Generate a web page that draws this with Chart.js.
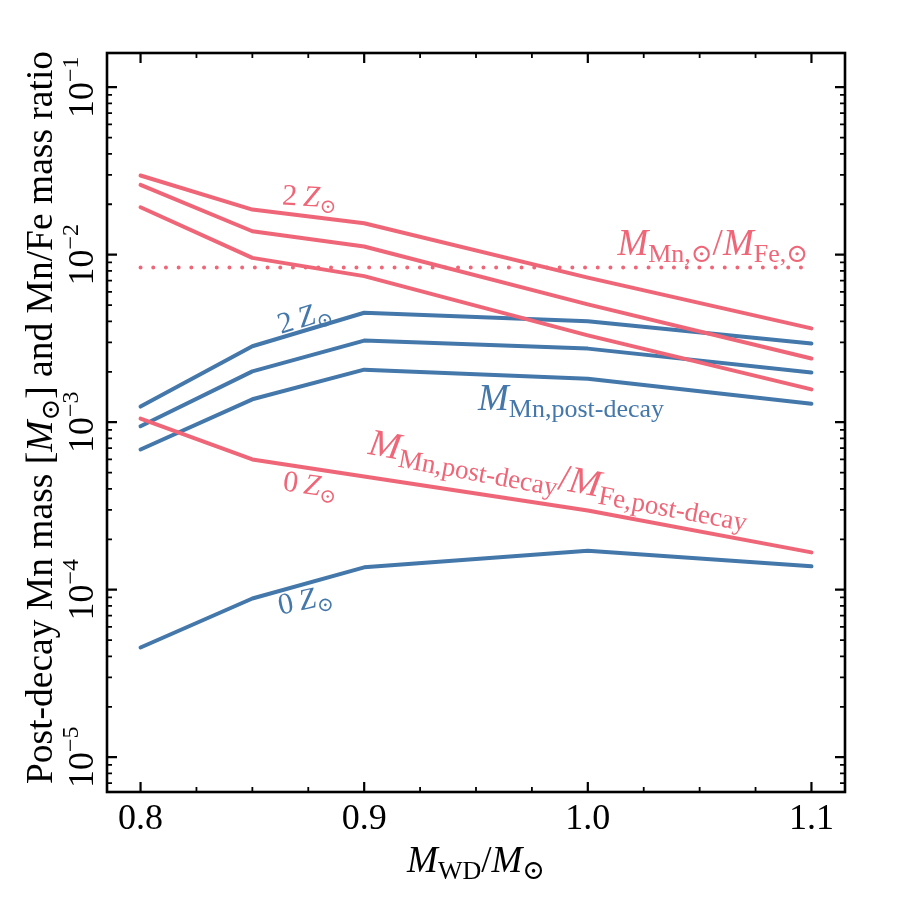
<!DOCTYPE html>
<html>
<head>
<meta charset="utf-8">
<script src="https://cdn.jsdelivr.net/npm/chart.js@4.4.0/dist/chart.umd.min.js"></script>
<style>
  html, body { margin: 0; padding: 0; background: #fff; }
</style>
</head>
<body>
<canvas id="mnChart" width="900" height="900"></canvas>
<script>
// White dwarf masses (M_WD / M_sun)
const massWD = [0.8, 0.85, 0.9, 1.0, 1.1];

// Mn/Fe mass ratio (red lines)
const ratio2Z   = [0.0297, 0.0186, 0.0154, 0.0073, 0.00363];
const ratioMidZ = [0.0261, 0.0138, 0.0112, 0.00505, 0.00240];
const ratioLowZ = [0.0192, 0.00957, 0.00745, 0.00330, 0.00157];
const ratio0Z   = [0.00105, 0.000599, 0.000474, 0.000297, 0.000167];

// post-decay Mn mass (blue lines)
const mn2Z   = [0.00124, 0.00284, 0.00450, 0.00401, 0.00295];
const mnMidZ = [0.000946, 0.00201, 0.00307, 0.00275, 0.00198];
const mnLowZ = [0.000687, 0.00137, 0.00206, 0.00182, 0.00129];
const mn0Z   = [0.0000452, 0.0000886, 0.000136, 0.000171, 0.000138];

// solar Mn/Fe mass ratio (dotted)
const solarX = [0.8, 1.1];
const solarRatio = 0.0084;

// ticks
const xTicks = [0.8, 0.9, 1.0, 1.1];
const xTickLabels = ['0.8', '0.9', '1.0', '1.1'];
const xMinorTicks = [0.825, 0.85, 0.875, 0.925, 0.95, 0.975, 1.025, 1.05, 1.075];
const yTicks = [1e-5, 1e-4, 1e-3, 1e-2, 1e-1];
const yTickExp = ['\u22125', '\u22124', '\u22123', '\u22122', '\u22121'];

const RED = '#EE6677';
const BLUE = '#4477AA';
const SERIF = '"Liberation Serif", "DejaVu Serif", serif';
const SUN = '\u2299';

function toPoints(ys) {
  return massWD.map((x, i) => ({ x: x, y: ys[i] }));
}

function line(ys, color) {
  return {
    data: toPoints(ys),
    borderColor: color,
    borderWidth: 4,
    borderCapStyle: 'round',
    borderJoinStyle: 'round',
    pointRadius: 0,
    tension: 0,
    fill: false
  };
}

// draw text with italic / sub parts: [text, size, italic, dy]
function drawRich(ctx, parts, x, y, align, rot, color) {
  ctx.save();
  ctx.translate(x, y);
  ctx.rotate(rot * Math.PI / 180);
  let w = 0;
  parts.forEach(p => {
    ctx.font = (p[2] ? 'italic ' : '') + p[1] + 'px ' + SERIF;
    w += ctx.measureText(p[0]).width;
  });
  let cx = align === 'right' ? -w : (align === 'left' ? 0 : -w / 2);
  ctx.fillStyle = color;
  ctx.textBaseline = 'alphabetic';
  ctx.textAlign = 'left';
  parts.forEach(p => {
    ctx.font = (p[2] ? 'italic ' : '') + p[1] + 'px ' + SERIF;
    ctx.fillText(p[0], cx, p[3] || 0);
    cx += ctx.measureText(p[0]).width;
  });
  ctx.restore();
}

function zLabel(n) {
  return [[n, 30, false], ['\u2009', 30, false], ['Z', 30, true], [SUN, 20, false, 6]];
}

// frame, inward ticks, tick labels, titles and line labels
const framePlugin = {
  id: 'framePlugin',
  afterDraw(chart) {
    const ctx = chart.ctx;
    const a = chart.chartArea;
    const xs = chart.scales.x;
    const ys = chart.scales.y;
    ctx.save();
    ctx.strokeStyle = '#000';
    ctx.lineCap = 'butt';

    // x ticks (bottom and top)
    ctx.lineWidth = 2.2;
    xTicks.forEach(v => {
      const px = xs.getPixelForValue(v);
      ctx.beginPath();
      ctx.moveTo(px, a.bottom); ctx.lineTo(px, a.bottom - 10);
      ctx.moveTo(px, a.top); ctx.lineTo(px, a.top + 10);
      ctx.stroke();
    });
    ctx.lineWidth = 1.8;
    xMinorTicks.forEach(v => {
      const px = xs.getPixelForValue(v);
      ctx.beginPath();
      ctx.moveTo(px, a.bottom); ctx.lineTo(px, a.bottom - 5);
      ctx.moveTo(px, a.top); ctx.lineTo(px, a.top + 5);
      ctx.stroke();
    });

    // y ticks (left and right), major + log minor
    ctx.lineWidth = 2.2;
    yTicks.forEach(v => {
      const py = ys.getPixelForValue(v);
      ctx.beginPath();
      ctx.moveTo(a.left, py); ctx.lineTo(a.left + 10, py);
      ctx.moveTo(a.right, py); ctx.lineTo(a.right - 10, py);
      ctx.stroke();
    });
    ctx.lineWidth = 1.8;
    for (let e = -6; e <= -1; e++) {
      for (let m = 2; m <= 9; m++) {
        const v = m * Math.pow(10, e);
        if (v < ys.min || v > ys.max) continue;
        const py = ys.getPixelForValue(v);
        ctx.beginPath();
        ctx.moveTo(a.left, py); ctx.lineTo(a.left + 5, py);
        ctx.moveTo(a.right, py); ctx.lineTo(a.right - 5, py);
        ctx.stroke();
      }
    }

    // frame
    ctx.lineWidth = 2.6;
    ctx.strokeRect(a.left, a.top, a.right - a.left, a.bottom - a.top);
    ctx.restore();

    // tick labels
    ctx.save();
    ctx.fillStyle = '#000';
    ctx.font = '36px ' + SERIF;
    ctx.textAlign = 'center';
    ctx.textBaseline = 'alphabetic';
    xTicks.forEach((v, i) => {
      ctx.fillText(xTickLabels[i], xs.getPixelForValue(v), a.bottom + 37);
    });
    ctx.restore();
    yTicks.forEach((v, i) => {
      drawRich(ctx, [['10', 36, false], [yTickExp[i], 24, false, -15]],
        a.left - 14, ys.getPixelForValue(v), 'center', -90, '#000');
    });

    // axis titles
    drawRich(ctx, [['M', 37, true], ['WD', 26, false, 7], ['/', 37, false], ['M', 37, true], [SUN, 27, false, 7]],
      (a.left + a.right) / 2, 872, 'center', 0, '#000');
    drawRich(ctx, [['Post-decay Mn mass [', 37.5, false], ['M', 37.5, true], [SUN, 26, false, 7],
      ['] and Mn/Fe mass ratio', 37.5, false]],
      52, (a.top + a.bottom) / 2 - 5, 'center', -90, '#000');

    // line labels
    drawRich(ctx, zLabel('2'), 309, 206, 'center', 3, RED);
    drawRich(ctx, zLabel('2'), 307, 326, 'center', -17, BLUE);
    drawRich(ctx, zLabel('0'), 309, 494, 'center', 8, RED);
    drawRich(ctx, zLabel('0'), 307, 609, 'center', -12, BLUE);
    drawRich(ctx, [['M', 37, true], ['Mn,' + SUN, 26, false, 7], ['/', 37, false], ['M', 37, true], ['Fe,' + SUN, 26, false, 7]],
      808, 255, 'right', 0, RED);
    drawRich(ctx, [['M', 37, true], ['Mn,post-decay', 26, false, 7]],
      571, 410, 'center', 0, BLUE);
    drawRich(ctx, [['M', 38, true], ['Mn,post-decay', 27, false, 7], ['/', 38, false], ['M', 38, true], ['Fe,post-decay', 27, false, 7]],
      557, 489, 'center', 10.5, RED);
  }
};

const solarData = solarX.map(x => ({ x: x, y: solarRatio }));

new Chart(document.getElementById('mnChart'), {
  type: 'line',
  data: {
    datasets: [
      line(ratio2Z, RED),
      line(ratioMidZ, RED),
      line(ratioLowZ, RED),
      line(ratio0Z, RED),
      line(mn2Z, BLUE),
      line(mnMidZ, BLUE),
      line(mnLowZ, BLUE),
      line(mn0Z, BLUE),
      {
        data: solarData,
        borderColor: RED,
        borderWidth: 4,
        borderDash: [0, 12.7],
        borderCapStyle: 'round',
        pointRadius: 0,
        fill: false
      }
    ]
  },
  options: {
    responsive: false,
    devicePixelRatio: 1,
    animation: false,
    layout: { padding: { left: 107, top: 53, right: 55, bottom: 108 } },
    plugins: { legend: { display: false }, tooltip: { enabled: false } },
    scales: {
      x: { type: 'linear', display: false, min: 0.785, max: 1.115 },
      y: { type: 'logarithmic', display: false, min: 6.2e-6, max: 0.16 }
    }
  },
  plugins: [framePlugin]
});
</script>
</body>
</html>
